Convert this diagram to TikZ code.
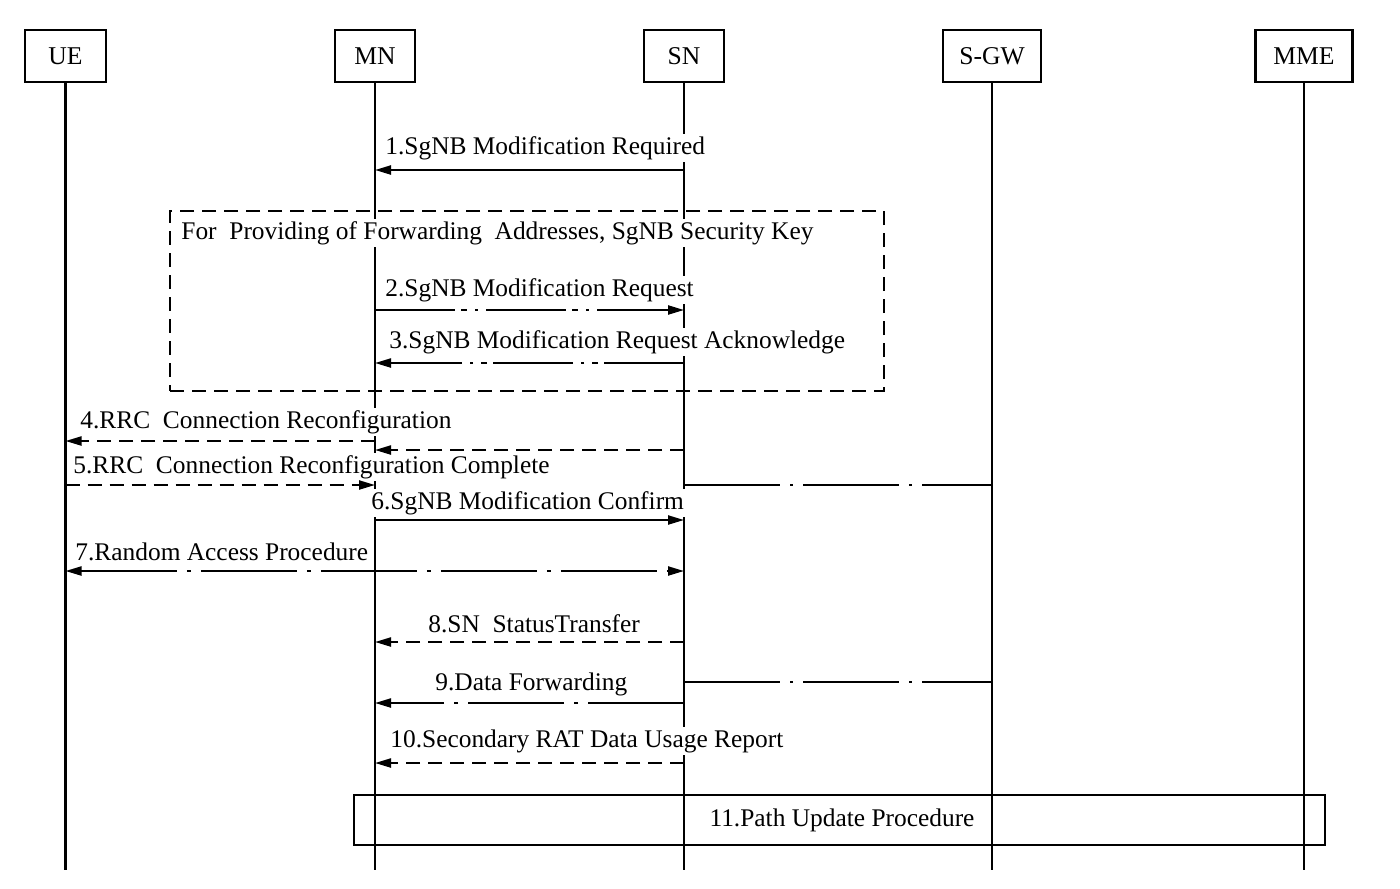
\documentclass[tikz,border=0pt]{standalone}
\usepackage{fontspec}
\setmainfont{Liberation Serif}
\usetikzlibrary{arrows.meta, positioning}

\tikzset{
    entity/.style={draw, line width=1.1pt, minimum height=26pt, inner sep=2pt, font=\fontsize{12.8}{15}\selectfont},
    life/.style={line width=1.1pt},
    msgsolid/.style={line width=1.1pt, -{Triangle[length=8pt, width=4.5pt]}},
    msgdash/.style={msgsolid, dash pattern=on 7pt off 4pt},
    msgdashdot/.style={msgsolid, dash pattern=on 48pt off 5pt on 2pt off 5pt},
    msgdashdotdot/.style={msgsolid, dash pattern=on 40pt off 3pt on 3pt off 4pt on 1.5pt off 4pt},
    tunnel/.style={line width=1.1pt, dash pattern=on 48pt off 5pt on 1.5pt off 5pt},
    lbl/.style={fill=white, inner sep=1pt, anchor=west, font=\fontsize{12.7}{15}\selectfont}
}

\begin{document}
\begin{tikzpicture}[x=0.5pt, y=-0.5pt]
\useasboundingbox (0,0) rectangle (1400,888);

% Entities
\node[entity, minimum width=40.5pt] (ue)  at (65.5,56) {UE};
\node[entity, minimum width=40pt]   (mn)  at (375,56)  {MN};
\node[entity, minimum width=40pt]   (sn)  at (684,56)  {SN};
\node[entity, minimum width=49pt]   (sgw) at (992,56)  {S-GW};
\node[entity, minimum width=48.5pt] (mme) at (1304,56) {MME};

% Lifelines
\foreach \n in {ue,mn,sn,sgw,mme} {
    \draw[life] (\n.south) -- (\n.south |- 0,870);
}

% Boxes
\node[draw, line width=1.1pt, dash pattern=on 7pt off 4pt, minimum width=357pt, minimum height=90pt] (grp) at (527,301) {};
\node[draw, line width=1.1pt, minimum width=485.5pt, minimum height=25pt, font=\fontsize{12.7}{15}\selectfont] (path) at (839.5,820) {\hspace*{2.5pt}11.Path Update Procedure};

% Labels
\node[lbl] (t1)  at (383,148) {1.SgNB Modification Required};
\node[lbl] (tg)  at (179,233) {For\ \ Providing of Forwarding\ \ Addresses, SgNB Security Key};
\node[lbl] (t2)  at (383,290) {2.SgNB Modification Request};
\node[lbl] (t3)  at (387,342) {3.SgNB Modification Request Acknowledge};
\node[lbl] (t4)  at (78,422)  {4.RRC\ \ Connection Reconfiguration};
\node[lbl] (t5)  at (71,467)  {5.RRC\ \ Connection Reconfiguration Complete};
\node[lbl] (t6)  at (369,503) {6.SgNB Modification Confirm};
\node[lbl] (t7)  at (73,552)  {7.Random Access Procedure};
\node[lbl] (t8)  at (426,624) {8.SN\ \ StatusTransfer};
\node[lbl] (t9)  at (433,684) {9.Data Forwarding};
\node[lbl] (t10) at (388,741) {10.Secondary RAT Data Usage Report};

% Messages
\draw[msgsolid]      (sn |- 0,170) -- (mn |- 0,170);
\draw[msgdashdotdot] (mn |- 0,310) -- (sn |- 0,310);
\draw[msgdashdotdot] (sn |- 0,363) -- (mn |- 0,363);
\draw[msgdash]       (mn |- 0,441) -- (ue |- 0,441);
\draw[msgdash]       (sn |- 0,450) -- (mn |- 0,450);
\draw[msgdash]       (ue |- 0,485) -- (mn |- 0,485);
\draw[tunnel]        (sn |- 0,485) -- (sgw |- 0,485);
\draw[msgsolid]      (mn |- 0,520) -- (sn |- 0,520);
\draw[msgdashdot, {Triangle[length=8pt, width=4.5pt]}-{Triangle[length=8pt, width=4.5pt]}] (ue |- 0,571) -- (sn |- 0,571);
\draw[msgdash]       (sn |- 0,642) -- (mn |- 0,642);
\draw[tunnel]        (sn |- 0,682) -- (sgw |- 0,682);
\draw[msgdashdot]    (sn |- 0,703) -- (mn |- 0,703);
\draw[msgdash]       (sn |- 0,763) -- (mn |- 0,763);
\end{tikzpicture}
\end{document}
